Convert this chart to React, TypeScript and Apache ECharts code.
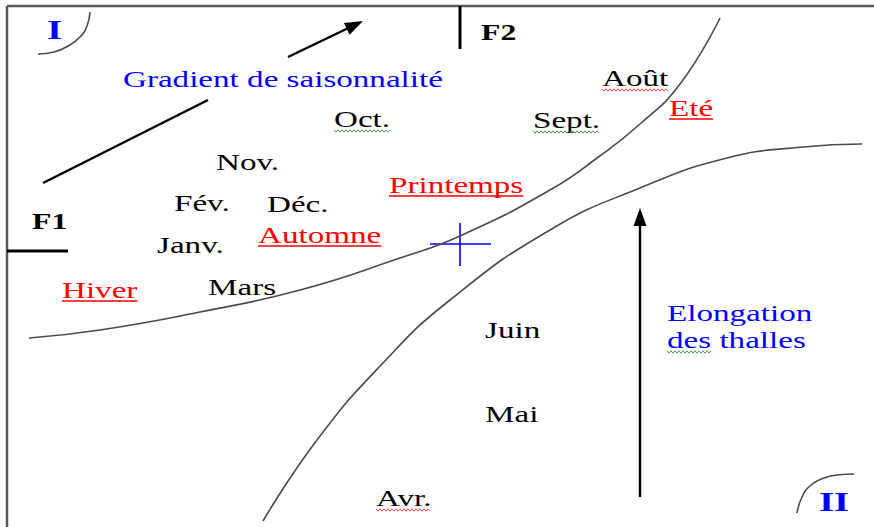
import React, { useEffect, useRef } from "react";
import * as echarts from "echarts";

// ---- plane extent (F1 horizontal, F2 vertical; y grows downward) ----
const PLANE_W = 874;
const PLANE_H = 527;

// ---- month labels ----
const monthLabels = ["Oct.", "Sept.", "Août", "Nov.", "Fév.", "Déc.", "Janv.", "Mars", "Juin", "Mai", "Avr."];
const monthX = [334, 533, 602, 216, 174, 267, 157, 208, 485, 485, 376];
const monthY = [119, 120, 78, 162, 203, 204, 245, 287, 330, 414, 498];
const monthFlag = ["grammar", "grammar", "spelling", "", "", "", "", "", "", "", "spelling"];

// ---- season labels ----
const seasonLabels = ["Eté", "Printemps", "Automne", "Hiver"];
const seasonX = [669, 389, 258, 62];
const seasonY = [108, 185, 235, 290];

// ---- gradient labels ----
const gradientLabels = ["Gradient de saisonnalité", "Elongation", "des thalles"];
const gradientX = [123, 667, 667];
const gradientY = [79, 313, 340];
const gradientFlagWord = ["", "", "des"];

// ---- factor labels ----
const factorLabels = ["F1", "F2"];
const factorX = [32, 481];
const factorY = [221, 32];

// ---- group (quadrant) labels ----
const groupLabels = ["I", "II"];
const groupX = [47, 819];
const groupY = [29, 501];

// ---- separating curves ----
const upperCurveX = [29, 100, 200, 300, 400, 460, 550, 597, 640, 680, 720];
const upperCurveY = [338, 330, 312, 290, 258, 236, 190, 158, 124, 84, 18];
const lowerCurveX = [263, 317, 383, 450, 550, 640, 727, 803, 862];
const lowerCurveY = [521, 440, 363, 300, 230, 188, 158, 147, 144];
const arcIX = [90, 87, 80, 68, 54, 38];
const arcIY = [12, 26, 37, 46, 52, 54];
const arcIIX = [797, 802, 811, 824, 837, 854];
const arcIIY = [513, 497, 485, 478, 475, 474];

// ---- segments [x1, y1, x2, y2, arrowhead] ----
const frameSegments = [
  [7, 6, 7, 527, 0],
  [7, 6, 874, 6, 0],
];
const factorSegments = [
  [460, 6, 460, 49, 0],
  [7, 251, 68, 251, 0],
];
const arrowSegments = [
  [43, 183, 208, 100, 0],
  [288, 57, 363, 21, 1],
  [640, 497, 640, 208, 1],
];
const crossSegments = [
  [430, 244, 491, 244, 0],
  [460, 223, 460, 266, 0],
];

const SERIF = '"Liberation Serif", "Times New Roman", serif';
const SX = 1.38;

let measureCtx: CanvasRenderingContext2D | null = null;
function measure(text: string, size: number, weight: string) {
  if (!measureCtx) measureCtx = document.createElement("canvas").getContext("2d");
  if (!measureCtx) return text.length * size * 0.5;
  measureCtx.font = `${weight} ${size}px ${SERIF}`;
  return measureCtx.measureText(text).width;
}

function zip(xs: number[], ys: number[]) {
  return xs.map((x, i) => [x, ys[i]]);
}

function squiggle(x0: number, x1: number, y: number) {
  const pts: number[][] = [];
  let up = true;
  for (let x = x0; x <= x1; x += 2) {
    pts.push([x, y + (up ? -1.2 : 1.2)]);
    up = !up;
  }
  return pts;
}

type TextOpts = {
  labels: string[];
  xs: number[];
  ys: number[];
  size: number;
  weight: string;
  color: string;
  underline?: boolean;
  flagWords?: string[];
  flagKinds?: string[];
};

function textSeries(o: TextOpts) {
  return {
    type: "custom",
    coordinateSystem: "cartesian2d",
    clip: false,
    silent: true,
    encode: { x: 0, y: 1 },
    data: o.xs.map((x, i) => [x, o.ys[i], i]),
    renderItem: (params: any, api: any) => {
      const i = api.value(2);
      const p = api.coord([api.value(0), api.value(1)]);
      const text = o.labels[i];
      const children: any[] = [
        {
          type: "text",
          x: p[0],
          y: p[1],
          scaleX: SX,
          style: {
            text,
            fontFamily: SERIF,
            fontSize: o.size,
            fontWeight: o.weight,
            fill: o.color,
            align: "left",
            verticalAlign: "middle",
          },
        },
      ];
      const w = measure(text, o.size, o.weight) * SX;
      if (o.underline) {
        children.push({
          type: "line",
          shape: { x1: p[0], y1: p[1] + 11, x2: p[0] + w, y2: p[1] + 11 },
          style: { stroke: o.color, lineWidth: 1.5 },
        });
      }
      let flagWord = "";
      let kind = "";
      if (o.flagKinds && o.flagKinds[i]) {
        flagWord = text;
        kind = o.flagKinds[i];
      }
      if (o.flagWords && o.flagWords[i]) {
        flagWord = o.flagWords[i];
        kind = "grammar";
      }
      if (flagWord) {
        const fw = measure(flagWord, o.size, o.weight) * SX;
        children.push({
          type: "polyline",
          shape: { points: squiggle(p[0], p[0] + fw, p[1] + 12) },
          style: { stroke: kind === "spelling" ? "#ff3030" : "#2a9a2a", lineWidth: 0.9, fill: "none" },
        });
      }
      return { type: "group", children };
    },
  };
}

function segmentSeries(data: number[][], color: string, width: number, headLen: number, headHalf: number) {
  return {
    type: "custom",
    coordinateSystem: "cartesian2d",
    clip: false,
    silent: true,
    encode: { x: [0, 2], y: [1, 3] },
    data,
    renderItem: (params: any, api: any) => {
      const a = api.coord([api.value(0), api.value(1)]);
      const b = api.coord([api.value(2), api.value(3)]);
      const arrow = api.value(4) === 1;
      const dx = b[0] - a[0];
      const dy = b[1] - a[1];
      const len = Math.sqrt(dx * dx + dy * dy) || 1;
      const ux = dx / len;
      const uy = dy / len;
      const end = arrow ? [b[0] - ux * headLen * 0.8, b[1] - uy * headLen * 0.8] : b;
      const children: any[] = [
        {
          type: "line",
          shape: { x1: a[0], y1: a[1], x2: end[0], y2: end[1] },
          style: { stroke: color, lineWidth: width },
        },
      ];
      if (arrow) {
        const bx = b[0] - ux * headLen;
        const by = b[1] - uy * headLen;
        children.push({
          type: "polygon",
          shape: {
            points: [
              [b[0], b[1]],
              [bx - uy * headHalf, by + ux * headHalf],
              [bx + uy * headHalf, by - ux * headHalf],
            ],
          },
          style: { fill: color },
        });
      }
      return { type: "group", children };
    },
  };
}

function curveSeries(xs: number[], ys: number[]) {
  return {
    type: "line",
    data: zip(xs, ys),
    smooth: 0.5,
    showSymbol: false,
    symbol: "none",
    silent: true,
    clip: false,
    lineStyle: { color: "#4a4a4a", width: 1.6 },
  };
}

export default function App() {
  const ref = useRef<HTMLDivElement>(null);
  useEffect(() => {
    if (!ref.current) return;
    const chart = echarts.init(ref.current, undefined, { renderer: "svg" });
    chart.setOption({
      animation: false,
      backgroundColor: "#ffffff",
      grid: { left: 0, right: 0, top: 0, bottom: 0 },
      xAxis: { type: "value", min: 0, max: PLANE_W, show: false },
      yAxis: { type: "value", min: 0, max: PLANE_H, inverse: true, show: false },
      series: [
        segmentSeries(frameSegments, "#5a5a5a", 2.5, 0, 0),
        curveSeries(upperCurveX, upperCurveY),
        curveSeries(lowerCurveX, lowerCurveY),
        curveSeries(arcIX, arcIY),
        curveSeries(arcIIX, arcIIY),
        segmentSeries(factorSegments, "#000000", 3, 0, 0),
        segmentSeries(arrowSegments, "#000000", 2.4, 18, 6.5),
        segmentSeries(crossSegments, "#0000ff", 1.6, 0, 0),
        textSeries({ labels: monthLabels, xs: monthX, ys: monthY, size: 24, weight: "normal", color: "#000000", flagKinds: monthFlag }),
        textSeries({ labels: seasonLabels, xs: seasonX, ys: seasonY, size: 24, weight: "normal", color: "#ff0000", underline: true }),
        textSeries({ labels: gradientLabels, xs: gradientX, ys: gradientY, size: 24, weight: "normal", color: "#0000ff", flagWords: gradientFlagWord }),
        textSeries({ labels: factorLabels, xs: factorX, ys: factorY, size: 23, weight: "bold", color: "#000000" }),
        textSeries({ labels: groupLabels, xs: groupX, ys: groupY, size: 28, weight: "bold", color: "#0000ff" }),
      ],
    });
    return () => chart.dispose();
  }, []);
  return (
    <div
      ref={ref}
      style={{ position: "fixed", left: 0, top: 0, width: PLANE_W, height: PLANE_H, background: "#fff" }}
    />
  );
}
